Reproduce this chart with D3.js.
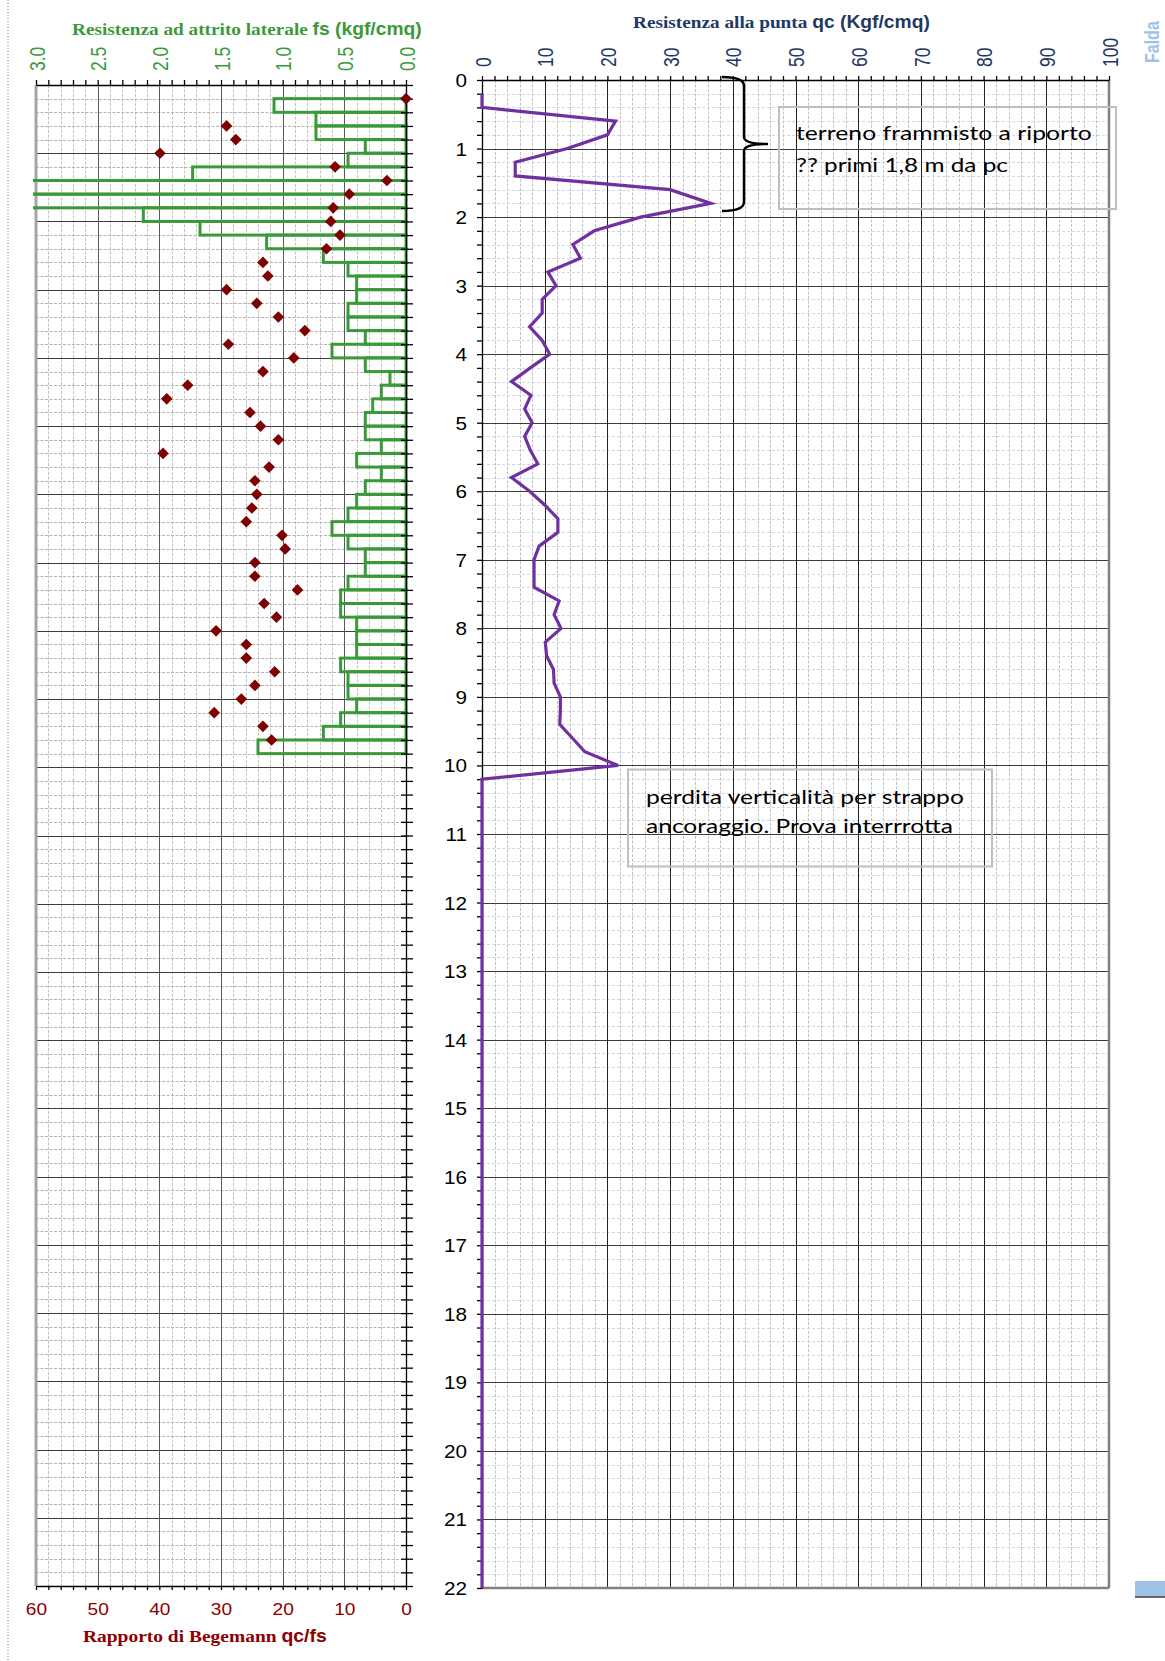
<!DOCTYPE html>
<html>
<head>
<meta charset="utf-8">
<script src="https://cdn.jsdelivr.net/npm/d3@7"></script>
<style>
  body { margin: 0; background: #fff; }
  svg { display: block; }
</style>
</head>
<body>
<svg id="chart"></svg>
<script>
// depth of each reading (m)
const depth = [0.2, 0.4, 0.6, 0.8, 1.0, 1.2, 1.4, 1.6, 1.8, 2.0,
  2.2, 2.4, 2.6, 2.8, 3.0, 3.2, 3.4, 3.6, 3.8, 4.0,
  4.2, 4.4, 4.6, 4.8, 5.0, 5.2, 5.4, 5.6, 5.8, 6.0,
  6.2, 6.4, 6.6, 6.8, 7.0, 7.2, 7.4, 7.6, 7.8, 8.0,
  8.2, 8.4, 8.6, 8.8, 9.0, 9.2, 9.4, 9.6, 9.8, 10.0,
  10.2, 22];

// point resistance qc (kgf/cmq)
const qc = [0, 0, 21.3, 20, 13.6, 5.3, 5.3, 30, 36.5, 25.3,
  17.9, 14.5, 15.7, 10.5, 11.8, 9.6, 9.6, 7.6, 9.6, 10.8,
  7.7, 4.7, 7.8, 6.8, 8.0, 6.8, 7.7, 8.9, 4.7, 7.6,
  10.0, 12.1, 12.1, 9.1, 8.3, 8.3, 8.3, 12.3, 11.5, 12.6,
  10.1, 10.3, 11.4, 11.5, 12.5, 12.5, 12.4, 14.4, 16.4, 21.7,
  0, 0];

// lateral friction fs (kgf/cmq), step covers the 0.2 m above each depth
const fs = [null, 1.07, 0.73, 0.73, 0.33, 0.47, 1.73, 3.3, 3.1, 2.13,
  1.67, 1.13, 0.67, 0.47, 0.40, 0.40, 0.47, 0.47, 0.33, 0.60,
  0.33, 0.13, 0.20, 0.27, 0.33, 0.33, 0.20, 0.40, 0.20, 0.33,
  0.40, 0.47, 0.60, 0.47, 0.33, 0.33, 0.47, 0.53, 0.53, 0.40,
  0.40, 0.40, 0.53, 0.47, 0.47, 0.40, 0.53, 0.67, 1.20, null,
  null, null];

// Begemann ratio qc/fs
const ratio = [0, null, 29.1, 27.6, 39.9, 11.5, 3.1, 9.2, 11.8, 12.2,
  10.7, 12.9, 23.2, 22.4, 29.1, 24.2, 20.7, 16.4, 28.8, 18.2,
  23.2, 35.4, 38.8, 25.3, 23.6, 20.7, 39.4, 22.2, 24.5, 24.2,
  25.0, 25.9, 20.1, 19.6, 24.5, 24.5, 17.6, 23.0, 21.0, 30.8,
  25.9, 25.9, 21.3, 24.5, 26.7, 31.1, 23.2, 21.8, null, null,
  null, null];

const fsTicks = [0, 0.5, 1.0, 1.5, 2.0, 2.5, 3.0];
const ratioTicks = [0, 10, 20, 30, 40, 50, 60];
const qcTicks = [0, 10, 20, 30, 40, 50, 60, 70, 80, 90, 100];
const depthTicks = d3.range(0, 23);

const W = 1165, H = 1661;
const GREEN = '#3a9a3a', NAVY = '#1f3864', DRED = '#8b0000', PURPLE = '#7030a0';
const STEP = 0.2;

const svg = d3.select('#chart').attr('width', W).attr('height', H);
svg.append('rect').attr('width', W).attr('height', H).attr('fill', '#fff');

const fsScale = d3.scaleLinear().domain([0, 3]).range([406, 36]);
const ratioScale = d3.scaleLinear().domain([0, 60]).range([406, 36]);
const yL = d3.scaleLinear().domain([0, 22]).range([85, 1586]);
const qcScale = d3.scaleLinear().domain([0, 100]).range([482, 1109]);
const yR = d3.scaleLinear().domain([0, 22]).range([80, 1588]);

const rows = depth.map((d, i) => ({d: d, qc: qc[i], fs: fs[i], r: ratio[i]}));
const depthMinor = d3.range(0, 111).map(i => i / 5);

// page edge
svg.append('line').attr('x1', 8).attr('x2', 8).attr('y1', 0).attr('y2', H)
  .attr('stroke', '#777').attr('stroke-dasharray', '1,2');

function hgrid(g, vals, x0, x1, y, color, dash, w) {
  g.append('g').selectAll('line').data(vals).join('line')
    .attr('x1', x0).attr('x2', x1)
    .attr('y1', d => Math.round(y(d)) + 0.5).attr('y2', d => Math.round(y(d)) + 0.5)
    .attr('stroke', color).attr('stroke-width', w || 1)
    .attr('stroke-dasharray', dash);
}
function vgrid(g, vals, y0, y1, x, color, dash, w) {
  g.append('g').selectAll('line').data(vals).join('line')
    .attr('y1', y0).attr('y2', y1)
    .attr('x1', d => Math.round(x(d)) + 0.5).attr('x2', d => Math.round(x(d)) + 0.5)
    .attr('stroke', color).attr('stroke-width', w || 1)
    .attr('stroke-dasharray', dash);
}

// ---------- left panel grid ----------
const gL = svg.append('g');
vgrid(gL, d3.range(1, 30).map(i => i / 10), yL(0), yL(22), fsScale, '#c2c2c2', '3,1.5');
hgrid(gL, depthMinor, fsScale(3), fsScale(0), yL, '#b4b4b4', '3,1.5');
hgrid(gL, depthTicks.slice(1, -1), fsScale(3), fsScale(0), yL, '#3c3c3c', null);
vgrid(gL, fsTicks.slice(1, -1), yL(0), yL(22), fsScale, '#5a5a5a', null);
gL.append('line').attr('x1', fsScale(3)).attr('x2', fsScale(3)).attr('y1', yL(0)).attr('y2', yL(22))
  .attr('stroke', '#a6a6a6').attr('stroke-width', 3);

// ---------- right panel grid ----------
const gR = svg.append('g');
vgrid(gR, d3.range(1, 50).map(i => i * 2), yR(0), yR(22), qcScale, '#c2c2c2', '3,1.5');
hgrid(gR, depthMinor, qcScale(0), qcScale(100), yR, '#cdd7ee', '3,2');
hgrid(gR, depthTicks.slice(1, -1), qcScale(0), qcScale(100), yR, '#3c3c3c', null);
vgrid(gR, qcTicks.slice(1, -1), yR(0), yR(22), qcScale, '#222', null);
gR.append('line').attr('x1', qcScale(100)).attr('x2', qcScale(100)).attr('y1', yR(0)).attr('y2', yR(22))
  .attr('stroke', '#808080').attr('stroke-width', 2.5);
gR.append('line').attr('x1', qcScale(0)).attr('x2', qcScale(100)).attr('y1', yR(22)).attr('y2', yR(22))
  .attr('stroke', '#808080').attr('stroke-width', 2.5);

// ---------- fs steps ----------
svg.append('clipPath').attr('id', 'clipL').append('rect')
  .attr('x', 33).attr('y', 0).attr('width', 390).attr('height', H);
svg.append('g').attr('clip-path', 'url(#clipL)')
  .selectAll('rect').data(rows.filter(r => r.fs != null)).join('rect')
  .attr('x', r => fsScale(r.fs)).attr('width', r => fsScale(0) - fsScale(r.fs))
  .attr('y', r => yL(r.d - STEP)).attr('height', r => yL(r.d) - yL(r.d - STEP))
  .attr('fill', 'none').attr('stroke', GREEN).attr('stroke-width', 3);

// ---------- axes ----------
function styleAxis(g, color) {
  g.select('.domain').attr('stroke', color).attr('stroke-width', 1.3);
  g.selectAll('.tick line').attr('stroke', color).attr('stroke-width', 1.3);
}

const axTopL = svg.append('g').attr('transform', `translate(0,${yL(0)})`)
  .call(d3.axisTop(fsScale).tickValues(d3.range(0, 31).map(i => i / 10)).tickSize(5).tickSizeOuter(0)
    .tickFormat(d => fsTicks.includes(d) ? d.toFixed(1) : ''));
styleAxis(axTopL, '#000');
axTopL.selectAll('text').attr('x', null).attr('y', null).attr('dy', '0.36em')
  .attr('text-anchor', 'start').attr('transform', 'translate(0,-14) scale(1.3,1) rotate(-90)')
  .attr('font-family', 'Liberation Sans').attr('font-size', 17.5).attr('fill', GREEN);

const axBotL = svg.append('g').attr('transform', `translate(0,${yL(22)})`)
  .call(d3.axisBottom(ratioScale).tickValues(d3.range(0, 31).map(i => i * 2)).tickSize(4).tickSizeOuter(0)
    .tickFormat(d => ratioTicks.includes(d) ? d : ''));
styleAxis(axBotL, '#000');
axBotL.selectAll('text').attr('y', null).attr('dy', null)
  .attr('transform', 'translate(0,29) scale(1.16,1)')
  .attr('font-family', 'Liberation Sans').attr('font-size', 16.5).attr('fill', DRED);

const axRightL = svg.append('g').attr('transform', `translate(${fsScale(0)},0)`)
  .call(d3.axisRight(yL).tickValues(depthMinor).tickSize(7).tickSizeOuter(0).tickFormat(''));
styleAxis(axRightL, '#000');
axRightL.selectAll('.tick line').attr('x1', -5);

const axTopR = svg.append('g').attr('transform', `translate(0,${yR(0)})`)
  .call(d3.axisTop(qcScale).tickValues(d3.range(0, 51).map(i => i * 2)).tickSize(4).tickSizeOuter(0)
    .tickFormat(d => qcTicks.includes(d) ? d : ''));
styleAxis(axTopR, '#000');
axTopR.selectAll('text').attr('x', null).attr('y', null).attr('dy', '0.36em')
  .attr('text-anchor', 'start').attr('transform', 'translate(0,-13) scale(1.3,1) rotate(-90)')
  .attr('font-family', 'Liberation Sans').attr('font-size', 17.5).attr('fill', NAVY);

const axLeftR = svg.append('g').attr('transform', `translate(${qcScale(0)},0)`)
  .call(d3.axisLeft(yR).tickValues(depthMinor).tickSize(5).tickSizeOuter(0)
    .tickFormat(d => Number.isInteger(d) ? d : ''));
styleAxis(axLeftR, '#000');
axLeftR.selectAll('text').attr('x', null).attr('dy', '0.36em')
  .attr('transform', 'translate(-15,0) scale(1.15,1)')
  .attr('font-family', 'Liberation Sans').attr('font-size', 18).attr('fill', '#000');

// ---------- ratio diamonds ----------
svg.append('g').selectAll('path').data(rows.filter(r => r.r != null)).join('path')
  .attr('d', d3.symbol().type(d3.symbolSquare).size(68))
  .attr('transform', r => `translate(${ratioScale(r.r)},${yL(r.d)}) rotate(45)`)
  .attr('fill', '#7f0000');

// ---------- qc line ----------
svg.append('path').datum(rows)
  .attr('d', d3.line().x(r => qcScale(r.qc)).y(r => yR(r.d)))
  .attr('fill', 'none').attr('stroke', PURPLE).attr('stroke-width', 3.2)
  .attr('stroke-linejoin', 'miter');

// ---------- text helpers ----------
function fitParts(x, y, parts, width, color) {
  const t = svg.append('text').attr('fill', color);
  parts.forEach(p => t.append('tspan')
    .attr('font-family', p.f).attr('font-weight', p.w || 'normal')
    .attr('font-size', p.s).text(p.t));
  const w = t.node().getComputedTextLength();
  t.attr('transform', `translate(${x},${y}) scale(${width / w},1)`);
  return t;
}
const SERIF = 'Liberation Serif', SANS = 'Liberation Sans';

fitParts(72, 35, [
  {t: 'Resistenza ad attrito laterale ', f: SERIF, w: 'bold', s: 17.5},
  {t: 'fs (kgf/cmq)', f: SANS, w: 'bold', s: 17.5}], 350, GREEN);
fitParts(633, 28, [
  {t: 'Resistenza alla punta ', f: SERIF, w: 'bold', s: 17.5},
  {t: 'qc (Kgf/cmq)', f: SANS, w: 'bold', s: 17.5}], 297, NAVY);
fitParts(83, 1642, [
  {t: 'Rapporto di Begemann ', f: SERIF, w: 'bold', s: 17.5},
  {t: 'qc/fs', f: SANS, w: 'bold', s: 17.5}], 244, DRED);

// Falda
svg.append('text').attr('transform', 'translate(1152,63) scale(1.25,1) rotate(-90)')
  .attr('dy', '0.36em').attr('font-family', SANS).attr('font-weight', 'bold')
  .attr('font-size', 16).attr('fill', '#9dc3e6').text('Falda');
svg.append('rect').attr('x', 1135).attr('y', 1581).attr('width', 30).attr('height', 15).attr('fill', '#9dc3e6');
svg.append('line').attr('x1', 1135).attr('x2', 1165).attr('y1', 1597).attr('y2', 1597)
  .attr('stroke', '#666').attr('stroke-width', 2);

// ---------- annotations ----------
svg.append('path')
  .attr('d', 'M722,77 Q744,77 744,86 L744,137 Q744,144 768,144 Q744,144 744,151 L744,202 Q744,211 722,211')
  .attr('fill', 'none').attr('stroke', '#000').attr('stroke-width', 2.5);

svg.append('rect').attr('x', 779).attr('y', 107).attr('width', 337).attr('height', 102)
  .attr('fill', 'none').attr('stroke', '#bfbfbf').attr('stroke-width', 2);
fitParts(796, 139.5, [{t: 'terreno frammisto a riporto', f: 'Lato', s: 19.5}], 296, '#000');
fitParts(796, 172, [{t: '?? primi 1,8 m da pc', f: 'Lato', s: 19.5}], 212, '#000');

svg.append('rect').attr('x', 628).attr('y', 769.5).attr('width', 364).attr('height', 97)
  .attr('fill', 'none').attr('stroke', '#bfbfbf').attr('stroke-width', 2);
fitParts(646, 803.5, [{t: 'perdita verticalità per strappo', f: 'Lato', s: 19.5}], 318, '#000');
fitParts(646, 833, [{t: 'ancoraggio. Prova interrrotta', f: 'Lato', s: 19.5}], 307, '#000');
</script>
</body>
</html>
